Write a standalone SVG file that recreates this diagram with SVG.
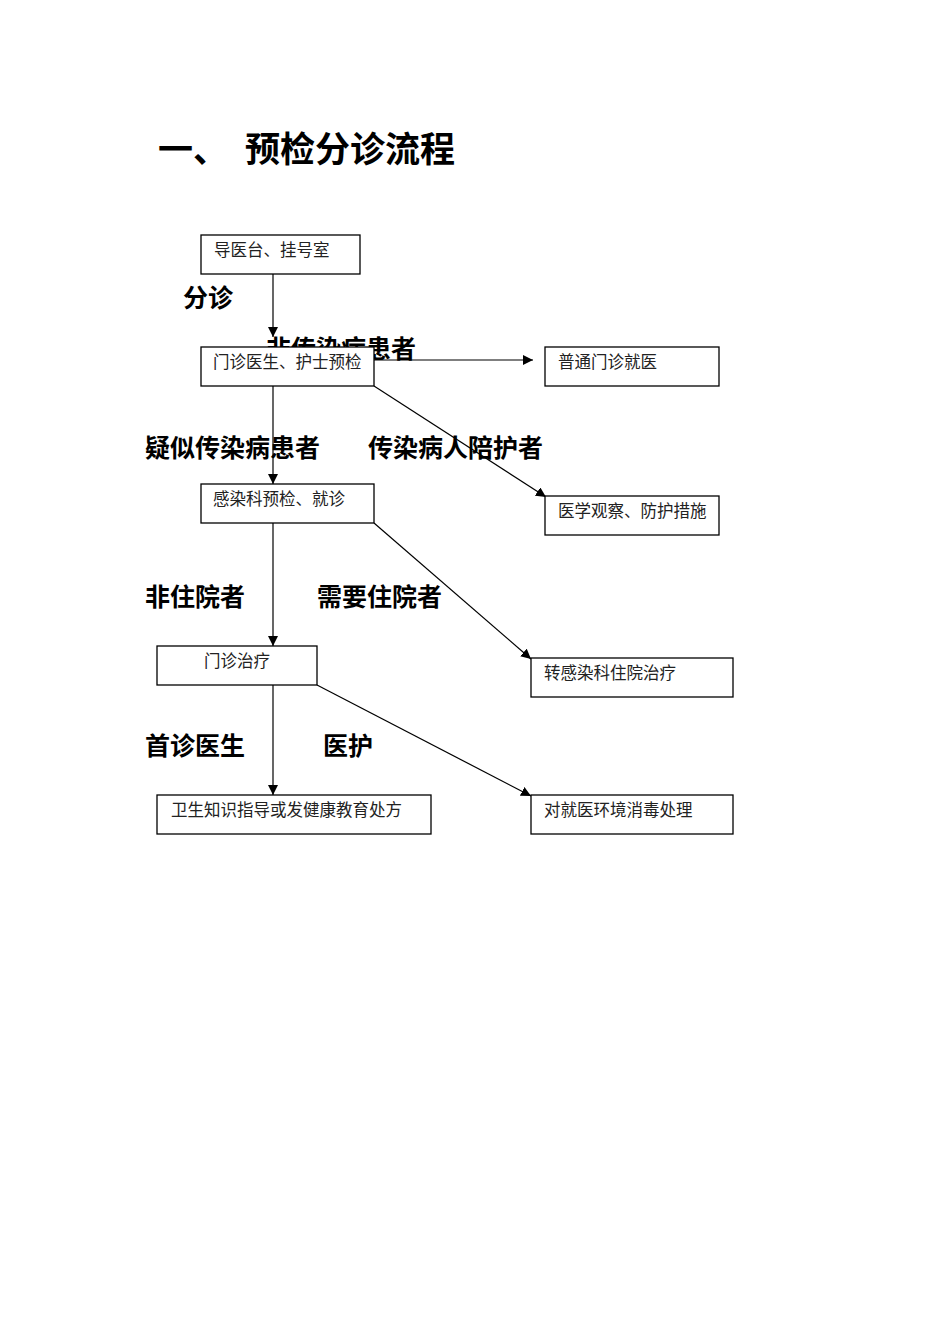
<svg xmlns="http://www.w3.org/2000/svg" width="950" height="1344" viewBox="0 0 950 1344">
<style>
.title{font-family:"Noto Sans CJK SC",sans-serif;font-size:35px;font-weight:bold;fill:#000}
.lbl{font-family:"Noto Sans CJK SC",sans-serif;font-size:25px;font-weight:bold;fill:#000}
.box{fill:#fff;stroke:#000;stroke-width:1.3}
.bt{font-family:"Liberation Serif","Noto Sans CJK SC",serif;font-size:16.5px;fill:#222}
.conn line{stroke:#000;stroke-width:1.2;fill:none}
</style>
<defs>
<marker id="ah" viewBox="0 0 10 10" refX="10" refY="5" markerWidth="10" markerHeight="10" markerUnits="userSpaceOnUse" orient="auto">
<path d="M0,0 L10,5 L0,10 Z" fill="#000"/>
</marker>
</defs>
<rect width="950" height="1344" fill="#fff"/>
<text class="title" x="158" y="162">一、</text>
<text class="title" x="245" y="162">预检分诊流程</text>
<g id="labels">
<text class="lbl" x="183" y="307">分诊</text>
<text class="lbl" x="266" y="358">非传染病患者</text>
<text class="lbl" x="145" y="457">疑似传染病患者</text>
<text class="lbl" x="368" y="457">传染病人陪护者</text>
<text class="lbl" x="145" y="606">非住院者</text>
<text class="lbl" x="317" y="606">需要住院者</text>
<text class="lbl" x="145" y="755">首诊医生</text>
<text class="lbl" x="323" y="755">医护</text>
</g>
<g id="connectors" class="conn">
<line x1="273" y1="274" x2="273" y2="337" marker-end="url(#ah)"/>
<line x1="374" y1="360" x2="533" y2="360" marker-end="url(#ah)"/>
<line x1="374" y1="386" x2="546" y2="497" marker-end="url(#ah)"/>
<line x1="273" y1="386" x2="273" y2="484" marker-end="url(#ah)"/>
<line x1="374" y1="523" x2="531" y2="659" marker-end="url(#ah)"/>
<line x1="273" y1="523" x2="273" y2="646" marker-end="url(#ah)"/>
<line x1="317" y1="685" x2="531" y2="796" marker-end="url(#ah)"/>
<line x1="273" y1="685" x2="273" y2="795" marker-end="url(#ah)"/>
</g>
<g id="n1"><rect class="box" x="201" y="235" width="159" height="39"/><text class="bt" x="214" y="256">导医台、挂号室</text></g>
<g id="n2"><rect class="box" x="201" y="347" width="173" height="39"/><text class="bt" x="213" y="368">门诊医生、护士预检</text></g>
<g id="n3"><rect class="box" x="545" y="347" width="174" height="39"/><text class="bt" x="558" y="368">普通门诊就医</text></g>
<g id="n4"><rect class="box" x="201" y="484" width="173" height="39"/><text class="bt" x="213" y="505">感染科预检、就诊</text></g>
<g id="n5"><rect class="box" x="545" y="496" width="174" height="39"/><text class="bt" x="558" y="517">医学观察、防护措施</text></g>
<g id="n6"><rect class="box" x="157" y="646" width="160" height="39"/><text class="bt" x="204" y="667">门诊治疗</text></g>
<g id="n7"><rect class="box" x="531" y="658" width="202" height="39"/><text class="bt" x="544" y="679">转感染科住院治疗</text></g>
<g id="n8"><rect class="box" x="157" y="795" width="274" height="39"/><text class="bt" x="171" y="816">卫生知识指导或发健康教育处方</text></g>
<g id="n9"><rect class="box" x="531" y="795" width="202" height="39"/><text class="bt" x="544" y="816">对就医环境消毒处理</text></g>
</svg>
